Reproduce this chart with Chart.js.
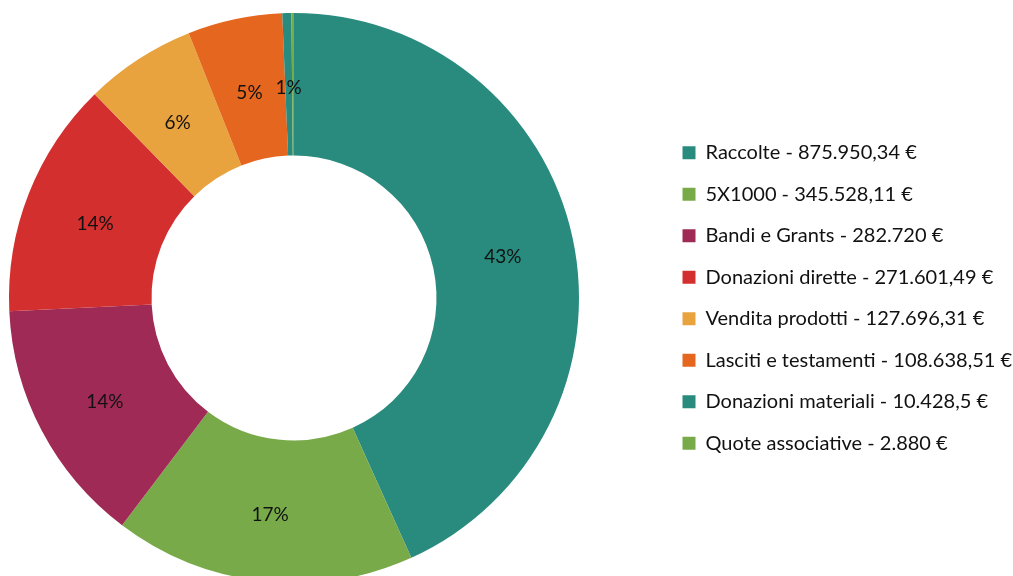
<!DOCTYPE html>
<html lang="it">
<head>
<meta charset="utf-8">
<title>Entrate</title>
<script src="https://cdn.jsdelivr.net/npm/chart.js@4/dist/chart.umd.min.js"></script>
<style>
    html, body {
        margin: 0;
        padding: 0;
        width: 1013px;
        height: 576px;
        overflow: hidden;
        background: #fff;
    }
    /* wrapper sticks out to the left and bottom so the ring sits where the original does */
    #chartBox {
        position: absolute;
        left: -73px;
        top: 13px;
        width: 1086px;
        height: 570px;
    }
</style>
</head>
<body>
<div id="chartBox"><canvas id="entrateChart"></canvas></div>
<script>
// Chart data
const legendLabels = [
    'Raccolte - 875.950,34 €',
    '5X1000 - 345.528,11 €',
    'Bandi e Grants - 282.720 €',
    'Donazioni dirette - 271.601,49 €',
    'Vendita prodotti - 127.696,31 €',
    'Lasciti e testamenti - 108.638,51 €',
    'Donazioni materiali - 10.428,5 €',
    'Quote associative - 2.880 €'
];
const amounts = [875950.34, 345528.11, 282720, 271601.49, 127696.31, 108638.51, 10428.5, 2880];
const sliceColors = ['#288b7e', '#78aa49', '#9e2a55', '#d32f2f', '#e8a33f', '#e5661f', '#288b7e', '#78aa49'];

const FONT_FAMILY = 'Lato, "Open Sans", sans-serif';
const LEGEND_WIDTH = 352;

/**
 * Whole percentages that add up to 100 (largest remainder)
 */
function roundedPercents(values) {
    const total = values.reduce((a, b) => a + b, 0);
    const raw = values.map(v => v / total * 100);
    const result = raw.map(Math.floor);
    let left = 100 - result.reduce((a, b) => a + b, 0);
    const order = raw
        .map((v, i) => ({ i, rem: v - Math.floor(v) }))
        .sort((a, b) => b.rem - a.rem);
    for (let k = 0; k < left; k++) {
        result[order[k].i] += 1;
    }
    return result;
}

// Widen the legend box to a fixed size so the ring keeps its place
const legendWidthPlugin = {
    id: 'legendWidth',
    beforeInit(chart) {
        const origFit = chart.legend.fit;
        chart.legend.fit = function() {
            origFit.call(this);
            this.width = LEGEND_WIDTH;
        };
    }
};

// Percent labels in the middle of each slice
const percentLabels = {
    id: 'percentLabels',
    afterDatasetsDraw(chart) {
        const ctx = chart.ctx;
        const meta = chart.getDatasetMeta(0);
        const pcts = roundedPercents(amounts);
        ctx.save();
        ctx.font = '19px ' + FONT_FAMILY;
        ctx.fillStyle = '#111';
        ctx.textAlign = 'center';
        ctx.textBaseline = 'middle';
        meta.data.forEach((arc, i) => {
            if (pcts[i] < 1) return;
            const pos = arc.tooltipPosition();
            ctx.fillText(pcts[i] + '%', pos.x, pos.y + 4);
        });
        ctx.restore();
    }
};

new Chart(document.getElementById('entrateChart'), {
    type: 'doughnut',
    data: {
        labels: legendLabels,
        datasets: [{
            data: amounts,
            backgroundColor: sliceColors,
            borderWidth: 0
        }]
    },
    options: {
        responsive: true,
        maintainAspectRatio: false,
        animation: false,
        cutout: '50%',
        layout: { padding: 0 },
        plugins: {
            legend: {
                position: 'right',
                align: 'center',
                labels: {
                    boxWidth: 13,
                    boxHeight: 13,
                    padding: 21.5,
                    color: '#111',
                    font: { family: FONT_FAMILY, size: 20 }
                }
            },
            tooltip: { enabled: false }
        }
    },
    plugins: [legendWidthPlugin, percentLabels]
});
</script>
</body>
</html>
